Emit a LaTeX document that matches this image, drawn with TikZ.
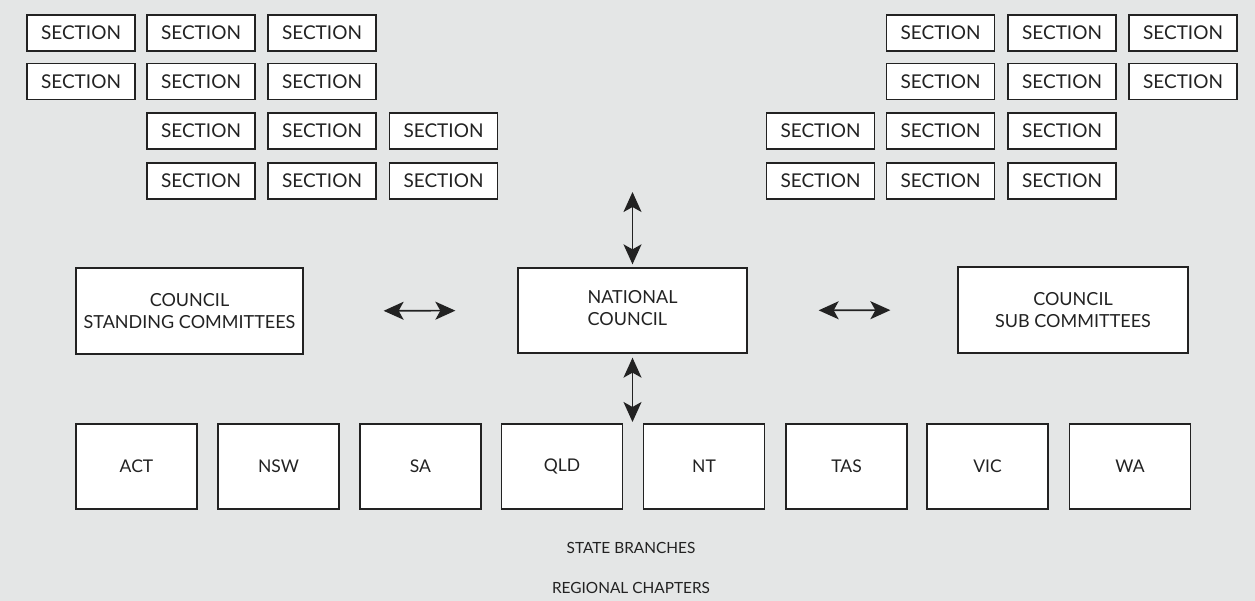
\documentclass[tikz,border=0pt]{standalone}
\usepackage{fontspec}
\setmainfont{Lato}
\usetikzlibrary{arrows.meta}
\definecolor{bgcol}{RGB}{228,230,230}
\definecolor{inkcol}{RGB}{34,34,34}
\tikzset{
  boxst/.style={draw=inkcol, fill=white, line width=1.3pt, inner sep=0pt, text=inkcol, align=center},
  secbox/.style={boxst, minimum width=108pt, minimum height=36pt, font=\fontsize{19}{21}\selectfont},
  bigbox/.style={boxst, minimum height=86pt, font=\fontsize{18}{22}\selectfont},
  statebox/.style={boxst, minimum width=121pt, minimum height=85pt, font=\fontsize{17.5}{20}\selectfont},
  lbl/.style={text=inkcol, font=\fontsize{15.4}{18}\selectfont},
  biarrow/.style={draw=inkcol, line width=1.6pt, {Stealth[length=20pt,width=18pt,inset=5pt]}-{Stealth[length=20pt,width=18pt,inset=5pt]}}
}
\begin{document}
\begin{tikzpicture}[x=1pt,y=-1pt]
\fill[bgcol] (0,0) rectangle (1255,601);
\useasboundingbox (0,0) rectangle (1255,601);
% left sections
\foreach \r/\y/\cols in {1/33/{1/81,2/201,3/322},2/81.5/{1/81,2/201,3/322},3/131/{2/201,3/322,4/443.5},4/181/{2/201,3/322,4/443.5}}{
  \foreach \c/\x in \cols {
    \node[secbox] (sl-\r-\c) at (\x,\y) {SECTION};
  }
}
% right sections
\foreach \r/\y/\cols in {1/33/{2/940.5,3/1062,4/1183},2/81.5/{2/940.5,3/1062,4/1183},3/131/{1/820.5,2/940.5,3/1062},4/181/{1/820.5,2/940.5,3/1062}}{
  \foreach \c/\x in \cols {
    \node[secbox] (sr-\r-\c) at (\x,\y) {SECTION};
  }
}
% council row
\node[bigbox, minimum width=227pt] (sc) at (189.5,311) {COUNCIL\\STANDING COMMITTEES};
\node[bigbox, minimum width=229pt, minimum height=85pt] (nc) at (632.5,310.5) {\begin{tabular}{@{}l@{}}NATIONAL\\COUNCIL\end{tabular}};
\node[bigbox, minimum width=230pt] (sub) at (1073,310) {COUNCIL\\SUB COMMITTEES};
% state branches
\foreach \n/\t/\x in {act/ACT/136.5,nsw/NSW/278.5,sa/SA/420.5,qld/QLD/562,nt/NT/704,tas/TAS/846.5,vic/VIC/987.5,wa/WA/1130}{
  \node[statebox] (\n) at (\x,466.5) {\t};
}
\node[lbl] (stb) at (631,548) {STATE BRANCHES};
\node[lbl] (rch) at (631,588) {REGIONAL CHAPTERS};
% connectors
\coordinate (topend) at (632.5,192);
\coordinate (botend) at (632.5,422);
\draw[biarrow, shorten <=3pt] (nc.north) -- (topend);
\draw[biarrow, shorten <=4pt] (nc.south) -- (botend);
\draw[biarrow, shorten <=80pt, shorten >=62pt] (sc.east) -- (nc.west);
\draw[biarrow, shorten <=71pt, shorten >=67pt] (nc.east) -- (sub.west);
\end{tikzpicture}
\end{document}
